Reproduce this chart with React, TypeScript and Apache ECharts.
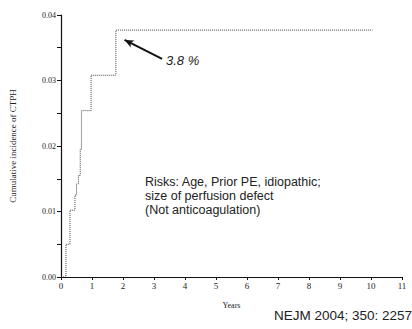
import React, { useEffect, useRef } from "react";
import * as echarts from "echarts";

const years = [0, 0.16, 0.29, 0.45, 0.5, 0.56, 0.62, 0.66, 0.97, 1.77, 10.05];
const incidence = [0, 0.005, 0.0102, 0.0125, 0.0142, 0.0155, 0.0195, 0.0254, 0.0308, 0.0377, 0.0377];
const xTicks = [0, 1, 2, 3, 4, 5, 6, 7, 8, 9, 10, 11];
const yTicks = [0, 0.01, 0.02, 0.03, 0.04];
const arrowFrom = [3.26, 0.0333];
const arrowTo = [2.05, 0.0362];
const riskLines = ["Risks: Age, Prior PE, idiopathic;", "size of perfusion defect", "(Not anticoagulation)"];

export default function App() {
  const ref = useRef<HTMLDivElement>(null);
  useEffect(() => {
    const chart = echarts.init(ref.current!, undefined, { renderer: "svg" });
    const serif = "Liberation Serif";
    chart.setOption({
      animation: false,
      backgroundColor: "#fff",
      grid: { left: 58, right: 10, top: 15, bottom: 52 },
      xAxis: {
        type: "value",
        min: xTicks[0],
        max: xTicks[xTicks.length - 1],
        interval: 1,
        name: "Years",
        nameLocation: "middle",
        nameGap: 24,
        nameTextStyle: { fontFamily: serif, fontSize: 8, color: "#222" },
        axisLine: { lineStyle: { color: "#111", width: 1.2 } },
        axisTick: { length: 3, lineStyle: { color: "#111" } },
        axisLabel: { fontFamily: serif, fontSize: 9, color: "#222", margin: 4 },
        splitLine: { show: false },
      },
      yAxis: {
        type: "value",
        min: yTicks[0],
        max: yTicks[yTicks.length - 1],
        interval: 0.01,
        name: "Cumulative incidence of CTPH",
        nameLocation: "middle",
        nameGap: 44,
        nameTextStyle: { fontFamily: serif, fontSize: 9, color: "#222" },
        axisLine: { show: true, lineStyle: { color: "#111", width: 1.2 } },
        axisTick: { show: true, length: 4, lineStyle: { color: "#111" } },
        minorTick: { show: true, splitNumber: 2, length: 4, lineStyle: { color: "#111" } },
        axisLabel: {
          fontFamily: serif,
          fontSize: 8,
          color: "#222",
          margin: 5,
          formatter: (v: number) => v.toFixed(2),
        },
        splitLine: { show: false },
      },
      series: [
        {
          type: "line",
          step: "end",
          symbol: "none",
          data: years.map((x, i) => [x, incidence[i]]),
          lineStyle: { color: "#444", width: 1, type: "dotted" },
          markLine: {
            silent: true,
            symbol: ["none", "arrow"],
            symbolSize: [6, 9],
            label: { show: false },
            lineStyle: { color: "#111", width: 2, type: "solid" },
            data: [[{ coord: arrowFrom }, { coord: arrowTo }]],
          },
        },
      ],
      graphic: [
        {
          type: "text",
          left: 166,
          top: 54,
          style: { text: "3.8 %", font: "italic 13px 'Liberation Sans'", fill: "#222" },
        },
        {
          type: "text",
          left: 145,
          top: 175,
          style: {
            text: riskLines.join("\n"),
            font: "12.5px 'Liberation Sans'",
            lineHeight: 14,
            fill: "#222",
          },
        },
        {
          type: "text",
          right: 0,
          top: 308,
          style: { text: "NEJM 2004; 350: 2257", font: "13.5px 'Liberation Sans'", fill: "#222" },
        },
      ],
    });
    return () => chart.dispose();
  }, []);
  return <div ref={ref} style={{ width: 412, height: 329, position: "absolute", left: 0, top: 0 }} />;
}
